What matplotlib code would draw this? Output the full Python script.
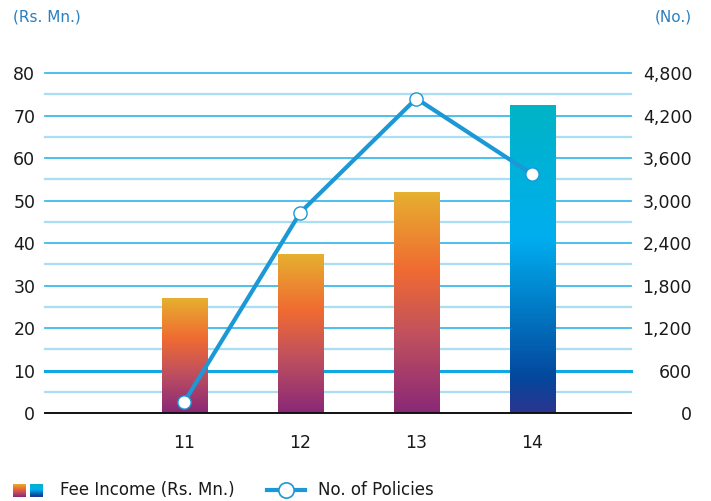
import numpy as np
import matplotlib
matplotlib.use("Agg")
import matplotlib.pyplot as plt
from matplotlib.colors import LinearSegmentedColormap
from matplotlib.lines import Line2D

# data
years = ['11', '12', '13', '14']
fee_income = [27.0, 37.4, 52.0, 72.5]          # Rs. Mn.
policies = [155, 2830, 4440, 3370]              # No.

left_ticks = [0, 10, 20, 30, 40, 50, 60, 70, 80]
right_ticks = [0, 600, 1200, 1800, 2400, 3000, 3600, 4200, 4800]

plt.rcParams['font.family'] = ['DejaVu Sans']

warm = LinearSegmentedColormap.from_list(
    'warm', [(0.0, '#892877'), (0.35, '#c0505e'), (0.65, '#f06b32'), (1.0, '#e6b02f')])
cool = LinearSegmentedColormap.from_list(
    'cool', [(0.0, '#2c3590'), (0.11, '#04479c'), (0.57, '#00aeef'), (1.0, '#00b4c5')])

fig = plt.figure(figsize=(7.11, 5.01), dpi=100)
ax = fig.add_axes([45 / 711, 1 - 413 / 501, 586 / 711, 340 / 501])

x = np.arange(len(years)) + 11

# grid lines every 5 units
for v in range(5, 81, 5):
    if v == 10:
        ax.axhline(v, color='#0fa8e2', lw=2.2, zorder=0, clip_on=False)
    elif v % 10 == 0:
        ax.axhline(v, color='#3dbbea', lw=1.3, zorder=0, clip_on=False)
    else:
        ax.axhline(v, color='#a9def5', lw=1.6, zorder=0, clip_on=False)
ax.axhline(0, color='#111111', lw=1.4, zorder=3, clip_on=False)

bars = ax.bar(x, fee_income, width=0.39, color='none', zorder=2)
grad = np.linspace(0, 1, 512).reshape(-1, 1)
for i, rect in enumerate(bars):
    x0, y0 = rect.get_x(), rect.get_y()
    w, h = rect.get_width(), rect.get_height()
    cmap = cool if i == len(bars) - 1 else warm
    im = ax.imshow(grad, cmap=cmap, origin='lower', aspect='auto',
                   interpolation='bilinear',
                   extent=(x0, x0 + w, y0, y0 + h), zorder=2)
    im.set_clip_path(rect)

ax.set_xlim(9.8, 14.85)
ax.set_ylim(0, 80)
ax.set_xticks(x)
ax.set_xticklabels(years)
ax.set_yticks(left_ticks)
for s in ax.spines.values():
    s.set_visible(False)
ax.tick_params(axis='both', length=0, labelsize=12.5, colors='#1a1a1a')
ax.tick_params(axis='x', pad=15)
ax.tick_params(axis='y', pad=7)

ax2 = ax.twinx()
ax2.set_ylim(0, 4800)
ax2.set_yticks(right_ticks)
ax2.set_yticklabels([f'{t:,}' for t in right_ticks])
for s in ax2.spines.values():
    s.set_visible(False)
ax2.tick_params(axis='y', length=0, labelsize=12.5, colors='#1a1a1a', pad=44)
for lab in ax2.get_yticklabels():
    lab.set_horizontalalignment('right')

ax2.plot(x, policies, color='#1b98d5', lw=3, marker='o', ms=9.5,
         mfc='white', mec='#1b98d5', mew=1.0, zorder=5, clip_on=False)

# unit labels
fig.text(13 / 711, 1 - 17 / 501, '(Rs. Mn.)', color='#2a7fc1', fontsize=11,
         va='center', ha='left')
fig.text(692 / 711, 1 - 17 / 501, '(No.)', color='#2a7fc1', fontsize=11,
         va='center', ha='right')

# legend
sq1 = fig.add_axes([13 / 711, 1 - 497 / 501, 13 / 711, 13 / 501])
sq1.imshow(grad, cmap=warm, origin='lower', aspect='auto', interpolation='bilinear')
sq1.axis('off')
sq2 = fig.add_axes([30 / 711, 1 - 497 / 501, 13 / 711, 13 / 501])
sq2.imshow(grad, cmap=cool, origin='lower', aspect='auto', interpolation='bilinear')
sq2.axis('off')
fig.text(60 / 711, 1 - 490 / 501, 'Fee Income (Rs. Mn.)', fontsize=12,
         color='#1a1a1a', va='center', ha='left')
fig.add_artist(Line2D([267 / 711, 305 / 711], [1 - 490 / 501, 1 - 490 / 501],
                      transform=fig.transFigure, color='#1b98d5', lw=3))
fig.add_artist(Line2D([286 / 711], [1 - 490 / 501], transform=fig.transFigure,
                      marker='o', ms=11, mfc='white', mec='#1b98d5', mew=1.2, lw=0))
fig.text(318 / 711, 1 - 490 / 501, 'No. of Policies', fontsize=12,
         color='#1a1a1a', va='center', ha='left')

fig.savefig('out.png', dpi=100)
